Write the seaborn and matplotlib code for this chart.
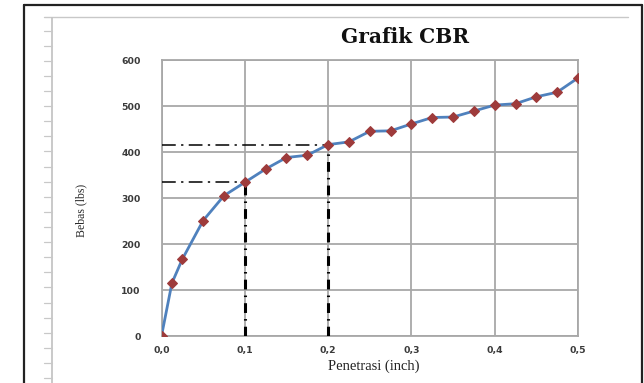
import matplotlib
matplotlib.use("Agg")
import matplotlib.pyplot as plt
from matplotlib.lines import Line2D
import pandas as pd
import seaborn as sns

# CBR test readings: penetration (inch) versus load (lbs)
penetrasi = [0.0, 0.0125, 0.025, 0.05, 0.075, 0.1, 0.125, 0.15, 0.175, 0.2,
             0.225, 0.25, 0.275, 0.3, 0.325, 0.35, 0.375, 0.4, 0.425, 0.45,
             0.475, 0.5]
beban = [0, 115, 167, 251, 305, 334, 363, 388, 393, 416,
         422, 445, 446, 461, 475, 476, 489, 502, 505, 520,
         530, 561]

# reference penetrations
ref_penetrasi = [0.1, 0.2]

x_ticks = [0.0, 0.1, 0.2, 0.3, 0.4, 0.5]
x_tick_labels = ["0,0", "0,1", "0,2", "0,3", "0,4", "0,5"]
y_ticks = [0, 100, 200, 300, 400, 500, 600]

df = pd.DataFrame({"Penetrasi": penetrasi, "Beban": beban})

sns.set_style("white")
plt.rcParams["font.family"] = ["DejaVu Sans"]

W, H = 644, 383
fig = plt.figure(figsize=(W / 100, H / 100), dpi=100)

# page decorations around the chart
def fx(px):
    return px / W

def fy(py):
    return 1 - py / H

fig.add_artist(Line2D([fx(24), fx(24)], [fy(5), fy(383)], color="#222222", lw=1.6))
fig.add_artist(Line2D([fx(642), fx(642)], [fy(5), fy(383)], color="#222222", lw=1.6))
fig.add_artist(Line2D([fx(24), fx(642)], [fy(5), fy(5)], color="#222222", lw=1.6))
fig.add_artist(Line2D([fx(44), fx(628)], [fy(17), fy(17)], color="#c8c8c8", lw=1.0))
fig.add_artist(Line2D([fx(52), fx(52)], [fy(18), fy(383)], color="#c0c0c0", lw=1.2))
yy = 30.7
while yy < 383:
    fig.add_artist(Line2D([fx(44), fx(52)], [fy(yy), fy(yy)], color="#c8c8c8", lw=0.9))
    yy += 15.1

x0, x1 = 161.5, 578
y0, y1 = 336, 60
ax = fig.add_axes([fx(x0), fy(y0), fx(x1) - fx(x0), (y0 - y1) / H])

sns.lineplot(data=df, x="Penetrasi", y="Beban", ax=ax, color="#4f81bd",
             lw=2.0, marker="D", markersize=5.5, markerfacecolor="#9e3b3b",
             markeredgecolor="#9e3b3b", zorder=4)

# dash-dot guides from the axes to the curve at 0.1 and 0.2 inch
for rx in ref_penetrasi:
    ry = beban[penetrasi.index(rx)]
    ax.hlines(ry, 0, rx, colors="black", lw=1.1,
              linestyles=[(0, (9, 3.5, 1.5, 3.5))], zorder=3)
    ax.vlines(rx, 0, ry, colors="black", lw=2.2,
              linestyles=[(0, (3.2, 2.0, 0.5, 2.0))], zorder=3)

ax.set_xlim(0, 0.5)
ax.set_ylim(0, 600)
ax.set_xticks(x_ticks)
ax.set_xticklabels(x_tick_labels)
ax.set_yticks(y_ticks)
ax.grid(True, color="#a8a8a8", lw=1.3)
ax.set_axisbelow(True)
for s in ax.spines.values():
    s.set_color("#a8a8a8")
    s.set_linewidth(1.3)
ax.tick_params(axis="both", colors="#a8a8a8", labelcolor="#3a3a3a",
               labelsize=6.7, width=1.1)
ax.tick_params(axis="y", length=4, pad=11)
ax.tick_params(axis="x", length=3, pad=4)
for lab in ax.get_xticklabels() + ax.get_yticklabels():
    lab.set_fontweight("bold")
ax.set_xlabel("")
ax.set_ylabel("")

fig.text(fx(405), fy(37), "Grafik CBR", ha="center", va="center",
         family=["DejaVu Serif"], fontweight="bold", fontsize=14.5,
         color="#111111")
fig.text(fx(374), fy(366), "Penetrasi (inch)", ha="center", va="center",
         family=["Liberation Serif"], fontsize=10.5, color="#222222")
fig.text(fx(81), fy(210), "Bebas (lbs)", ha="center", va="center",
         rotation=90, family=["Liberation Sans Narrow", "Liberation Serif"],
         fontsize=8.5, color="#2a2a2a")

fig.savefig("out.png", dpi=100)
